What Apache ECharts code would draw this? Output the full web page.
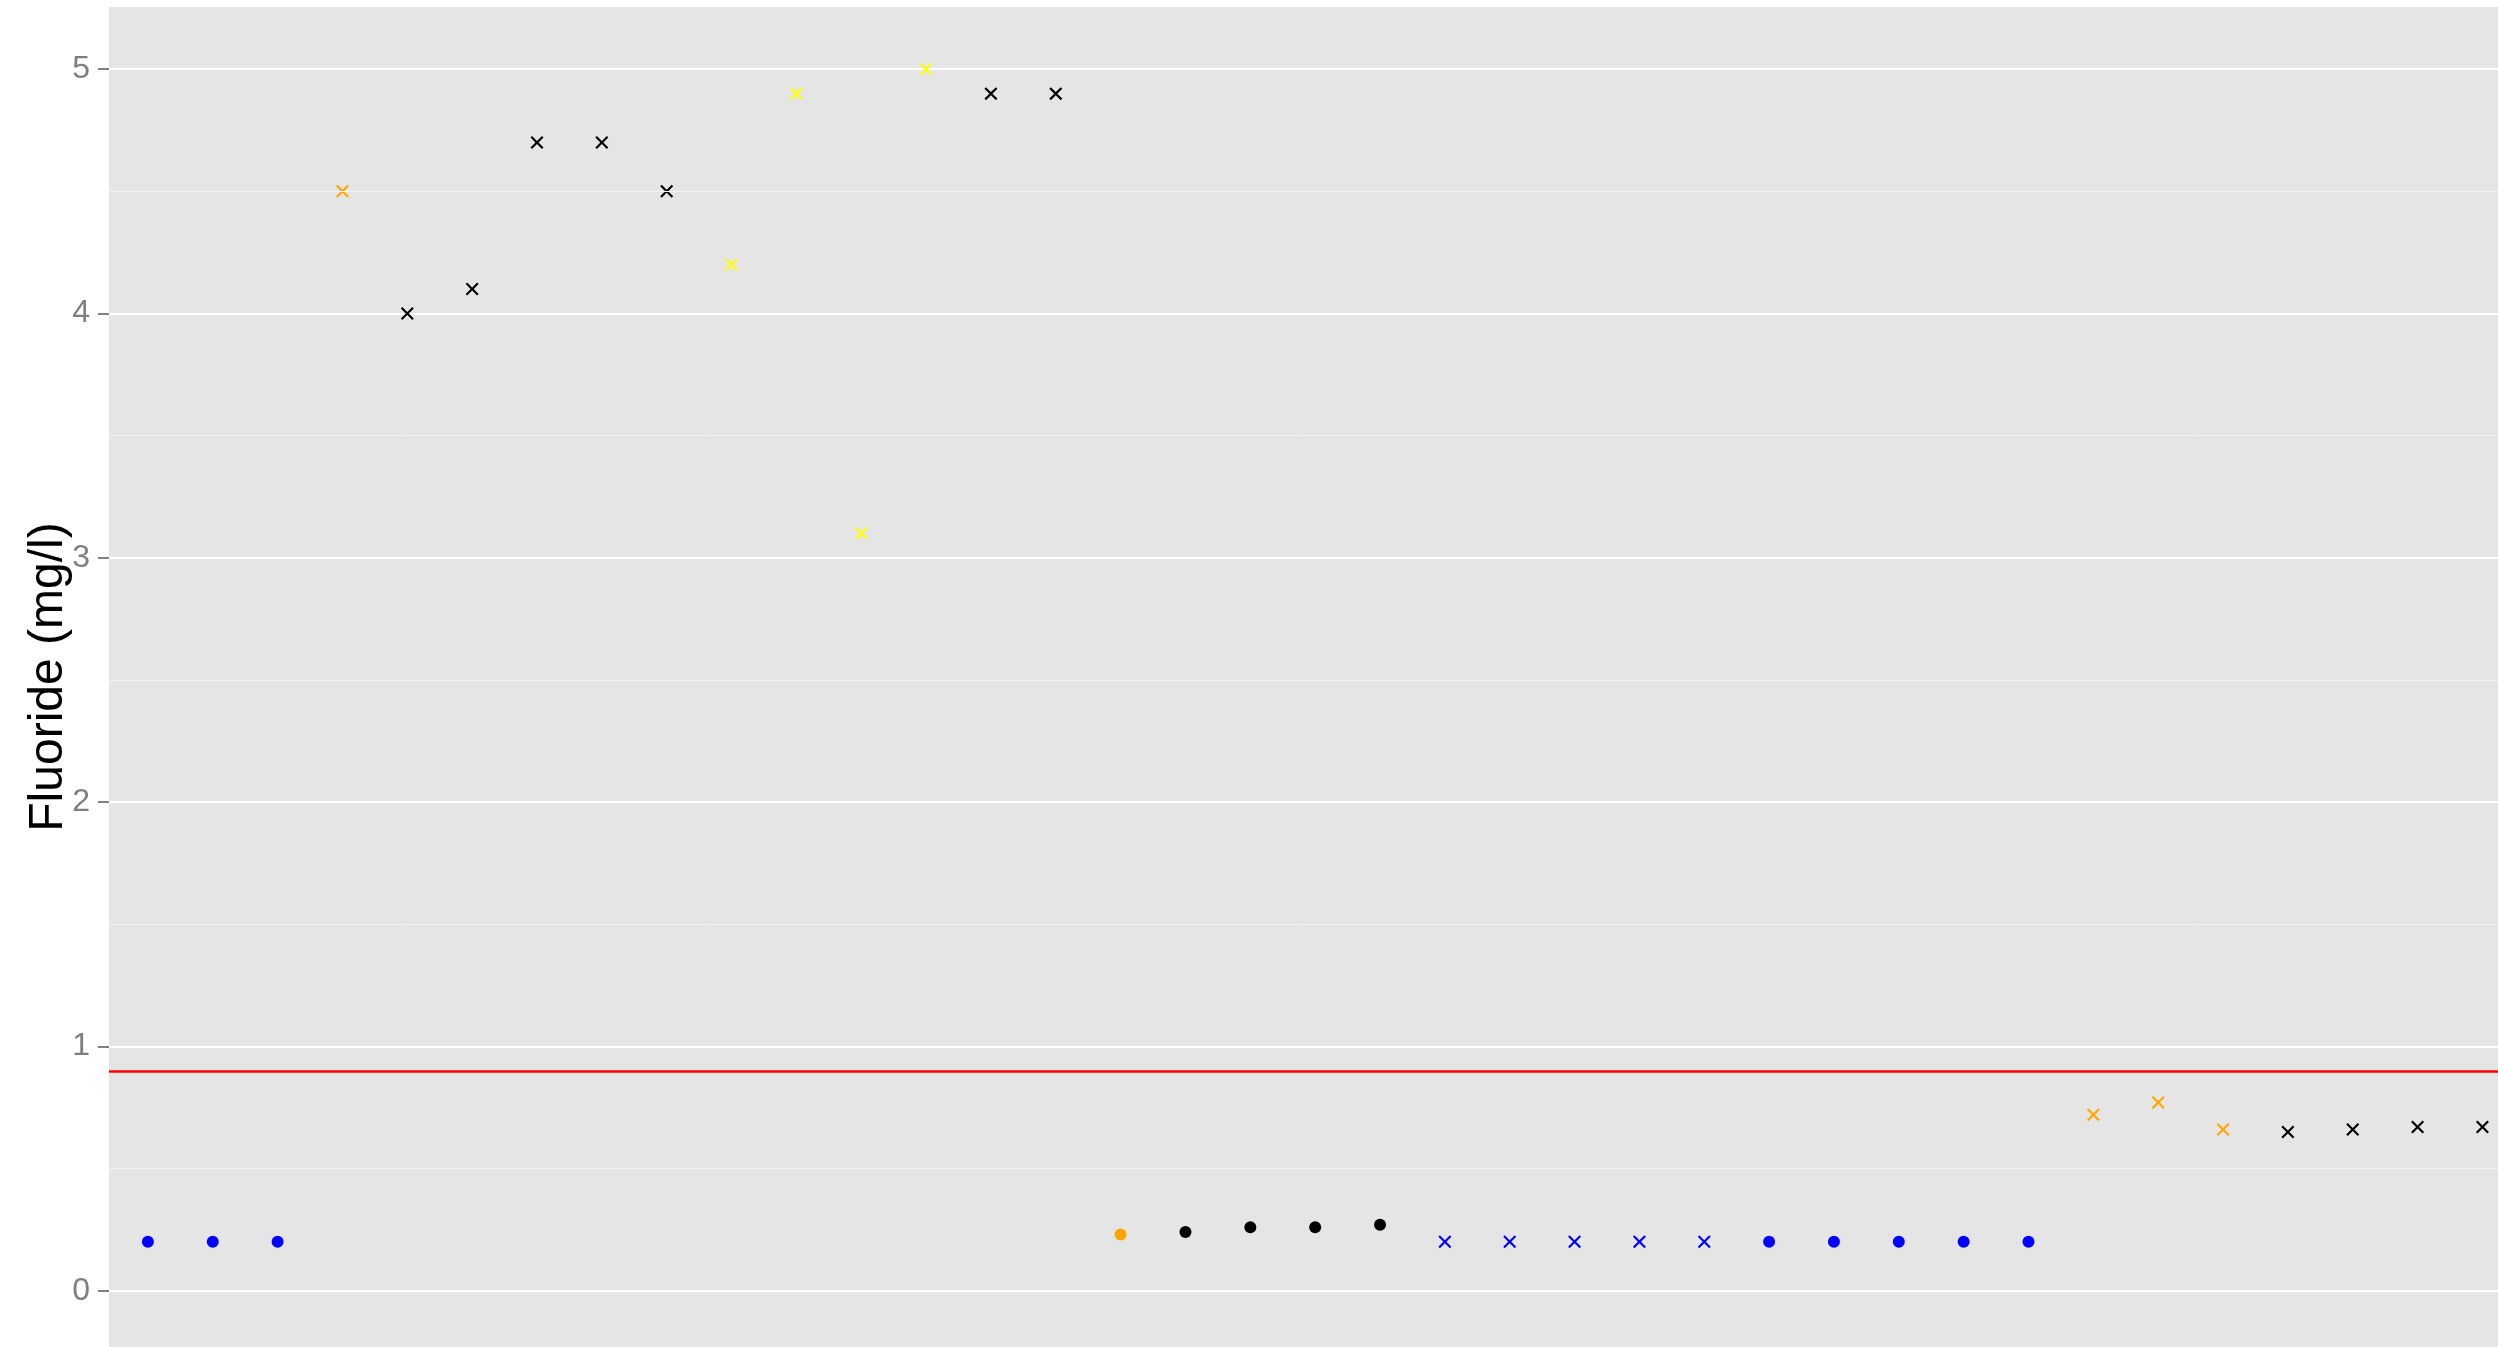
<!DOCTYPE html>
<html>
<head>
<meta charset="utf-8">
<title>Fluoride</title>
<script src="https://cdn.jsdelivr.net/npm/echarts@6/dist/echarts.min.js"></script>
<style>
  html, body { margin: 0; padding: 0; background: #fff; }
  #main { width: 2498px; height: 1347px; }
</style>
</head>
<body>
<div id="main"></div>
<script>
// values, one per sample, left to right
const fluoride = [0.2, 0.2, 0.2, 4.5, 4.0, 4.1, 4.7, 4.7, 4.5, 4.2, 4.9, 3.1, 5.0, 4.9, 4.9,
  0.23, 0.24, 0.26, 0.26, 0.27, 0.2, 0.2, 0.2, 0.2, 0.2, 0.2, 0.2, 0.2, 0.2, 0.2,
  0.72, 0.77, 0.66, 0.65, 0.66, 0.67, 0.67];
const pointColor = ["blue", "blue", "blue", "orange", "black", "black", "black", "black", "black",
  "yellow", "yellow", "yellow", "yellow", "black", "black",
  "orange", "black", "black", "black", "black",
  "blue", "blue", "blue", "blue", "blue", "blue", "blue", "blue", "blue", "blue",
  "orange", "orange", "orange", "black", "black", "black", "black"];
const pointShape = ["dot", "dot", "dot", "cross", "cross", "cross", "cross", "cross", "cross",
  "cross", "cross", "cross", "cross", "cross", "cross",
  "dot", "dot", "dot", "dot", "dot",
  "cross", "cross", "cross", "cross", "cross", "dot", "dot", "dot", "dot", "dot",
  "cross", "cross", "cross", "cross", "cross", "cross", "cross"];
const yTicks = [0, 1, 2, 3, 4, 5];
const yMinor = [0.5, 1.5, 2.5, 3.5, 4.5];
const limit = 0.9; // guideline value

const colorMap = { blue: "#0000ff", orange: "#ffa500", yellow: "#ffff00", black: "#000000" };
const crossPath = "path://M0,1.4L1.4,0L6,4.6L10.6,0L12,1.4L7.4,6L12,10.6L10.6,12L6,7.4L1.4,12L0,10.6L4.6,6Z";

let points = fluoride.map((v, i) => {
  let cross = pointShape[i] === "cross";
  return {
    value: [i, v],
    symbol: cross ? crossPath : "circle",
    symbolSize: cross ? 13 : 12,
    itemStyle: { color: colorMap[pointColor[i]], opacity: 1 }
  };
});

let chart = echarts.init(document.getElementById("main"));
chart.setOption({
  animation: false,
  backgroundColor: "#ffffff",
  grid: {
    left: 109,
    right: 0,
    top: 7,
    bottom: 0,
    show: true,
    backgroundColor: "#e5e5e5",
    borderWidth: 0
  },
  xAxis: {
    type: "value",
    min: -0.6,
    max: 36.24,
    axisLine: { show: false },
    axisTick: { show: false },
    axisLabel: { show: false },
    splitLine: { show: false }
  },
  yAxis: {
    type: "value",
    min: -0.2305,
    max: 5.2546,
    name: "Fluoride (mg/l)",
    nameLocation: "middle",
    nameGap: 36,
    nameMoveOverlap: false,
    nameTextStyle: { color: "#000000", fontSize: 48, fontFamily: "Liberation Sans, Arial, sans-serif" },
    axisLine: { show: false, onZero: false },
    axisTick: { show: true, length: 11, customValues: yTicks, lineStyle: { color: "#7f7f7f", width: 2 } },
    axisLabel: {
      customValues: yTicks,
      margin: 19,
      color: "#7f7f7f",
      fontSize: 32,
      fontFamily: "Liberation Sans, Arial, sans-serif",
      showMinLabel: true,
      showMaxLabel: true
    },
    splitLine: { show: true, lineStyle: { color: "#ffffff", width: 2 } }
  },
  series: [
    {
      // minor grid lines and the red guideline
      type: "line",
      data: [],
      z: 1,
      silent: true,
      markLine: {
        symbol: "none",
        silent: true,
        animation: false,
        label: { show: false },
        data: yMinor.map(v => ({ yAxis: v, lineStyle: { color: "#f2f2f2", width: 1, type: "solid" } }))
          .concat([{ yAxis: limit, lineStyle: { color: "#ff0000", width: 2.5, type: "solid" } }])
      }
    },
    {
      type: "scatter",
      z: 3,
      data: points
    }
  ]
});
</script>
</body>
</html>
